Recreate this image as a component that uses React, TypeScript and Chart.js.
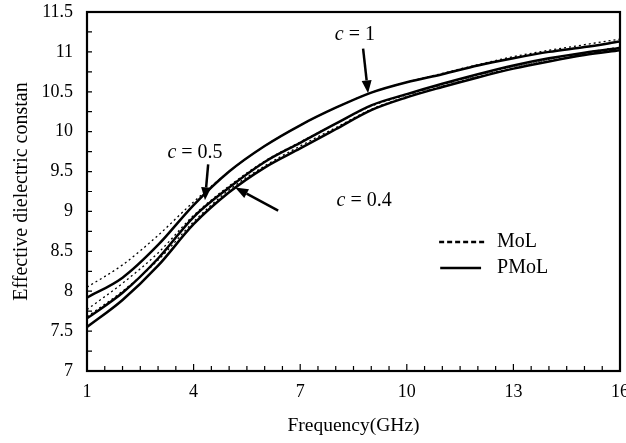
import React, { useEffect, useRef } from "react";
import { Chart, registerables } from "chart.js";

Chart.register(...registerables);

const frequencies = [1, 2, 3, 4, 5, 6, 7, 8, 9, 10, 11, 12, 13, 14, 15, 16];
const pmolC1 = [7.92, 8.17, 8.58, 9.08, 9.5, 9.82, 10.08, 10.3, 10.49, 10.62, 10.72, 10.83, 10.92, 11.0, 11.06, 11.13];
const pmolC05 = [7.66, 7.98, 8.41, 8.93, 9.3, 9.62, 9.86, 10.1, 10.33, 10.47, 10.6, 10.72, 10.83, 10.92, 10.99, 11.05];
const pmolC04 = [7.55, 7.89, 8.32, 8.84, 9.24, 9.55, 9.79, 10.03, 10.27, 10.43, 10.56, 10.68, 10.79, 10.88, 10.96, 11.02];
const molC1 = [8.05, 8.33, 8.7, 9.12, 9.5, 9.82, 10.08, 10.3, 10.49, 10.62, 10.73, 10.84, 10.94, 11.02, 11.09, 11.16];
const molC05 = [7.77, 8.1, 8.48, 8.95, 9.32, 9.63, 9.87, 10.1, 10.32, 10.46, 10.59, 10.71, 10.82, 10.91, 10.99, 11.06];
const molC04 = [7.68, 8.0, 8.39, 8.87, 9.27, 9.57, 9.82, 10.05, 10.28, 10.44, 10.57, 10.69, 10.8, 10.89, 10.97, 11.04];

const xTitle = "Frequency(GHz)";
const yTitle = "Effective dielectric constan";
const legendLabels = ["MoL", "PMoL"];

// annotations in data coordinates: label position, arrow tail, arrow tip
const annotations = [
  { value: "1", label: [8.54, 11.21], tail: [8.77, 11.04], tip: [8.91, 10.48] },
  { value: "0.5", label: [4.04, 9.73], tail: [4.41, 9.59], tip: [4.32, 9.14] },
  { value: "0.4", label: [8.8, 9.14], tail: [6.38, 9.01], tip: [5.17, 9.3] },
];

const FONT = '"Liberation Serif", "Times New Roman", serif';

const toXY = (ys: number[]) => frequencies.map((f, i) => ({ x: f, y: ys[i] }));

const decorPlugin = {
  id: "decor",
  afterDatasetsDraw(chart: any) {
    const { ctx, chartArea, scales } = chart;
    const xs = scales.x;
    const ys = scales.y;
    const px = (v: number) => xs.getPixelForValue(v);
    const py = (v: number) => ys.getPixelForValue(v);
    ctx.save();
    ctx.strokeStyle = "#000";
    ctx.fillStyle = "#000";

    // inside tick marks
    ctx.lineWidth = 1.2;
    ctx.beginPath();
    for (let f = 1.5; f < 16; f += 0.5) {
      const x = px(f);
      const len = Math.abs((f - 1) % 3) < 1e-6 ? 7 : 5;
      ctx.moveTo(x, chartArea.bottom);
      ctx.lineTo(x, chartArea.bottom - len);
    }
    for (let v = 7.25; v < 11.5; v += 0.25) {
      const y = py(v);
      ctx.moveTo(chartArea.left, y);
      ctx.lineTo(chartArea.left + 5, y);
    }
    ctx.stroke();

    // frame
    ctx.lineWidth = 2.2;
    ctx.strokeRect(chartArea.left, chartArea.top, chartArea.right - chartArea.left, chartArea.bottom - chartArea.top);

    // annotations
    ctx.textBaseline = "middle";
    for (const a of annotations) {
      const italic = `italic 20px ${FONT}`;
      const normal = `20px ${FONT}`;
      ctx.font = italic;
      const wc = ctx.measureText("c").width;
      ctx.font = normal;
      const rest = " = " + a.value;
      const wr = ctx.measureText(rest).width;
      const cx = px(a.label[0]);
      const cy = py(a.label[1]);
      const x0 = cx - (wc + wr) / 2;
      ctx.textAlign = "left";
      ctx.font = italic;
      ctx.fillText("c", x0, cy);
      ctx.font = normal;
      ctx.fillText(rest, x0 + wc, cy);

      const x1 = px(a.tail[0]);
      const y1 = py(a.tail[1]);
      const x2 = px(a.tip[0]);
      const y2 = py(a.tip[1]);
      const ang = Math.atan2(y2 - y1, x2 - x1);
      const head = 13;
      const hw = 5;
      ctx.lineWidth = 2.5;
      ctx.beginPath();
      ctx.moveTo(x1, y1);
      ctx.lineTo(x2 - head * Math.cos(ang), y2 - head * Math.sin(ang));
      ctx.stroke();
      ctx.beginPath();
      ctx.moveTo(x2, y2);
      ctx.lineTo(x2 - head * Math.cos(ang) + hw * Math.sin(ang), y2 - head * Math.sin(ang) - hw * Math.cos(ang));
      ctx.lineTo(x2 - head * Math.cos(ang) - hw * Math.sin(ang), y2 - head * Math.sin(ang) + hw * Math.cos(ang));
      ctx.closePath();
      ctx.fill();
    }

    // legend
    ctx.lineWidth = 2.5;
    ctx.setLineDash([5, 3]);
    ctx.beginPath();
    ctx.moveTo(px(10.91), py(8.617));
    ctx.lineTo(px(12.26), py(8.617));
    ctx.stroke();
    ctx.setLineDash([]);
    ctx.beginPath();
    ctx.moveTo(px(10.94), py(8.29));
    ctx.lineTo(px(12.09), py(8.29));
    ctx.stroke();
    ctx.font = `20px ${FONT}`;
    ctx.textAlign = "left";
    ctx.fillText(legendLabels[0], px(12.54), py(8.617));
    ctx.fillText(legendLabels[1], px(12.54), py(8.29));
    ctx.restore();
  },
};

export default function App() {
  const ref = useRef<HTMLCanvasElement | null>(null);
  useEffect(() => {
    document.body.style.margin = "0";
    if (!ref.current) return;
    const solid = (data: number[]) => ({
      data: toXY(data),
      borderColor: "#000",
      borderWidth: 2.5,
      pointRadius: 0,
      fill: false,
      cubicInterpolationMode: "monotone" as const,
    });
    const dashed = (data: number[]) => ({
      data: toXY(data),
      borderColor: "#000",
      borderWidth: 1.3,
      borderDash: [2, 3],
      pointRadius: 0,
      fill: false,
      cubicInterpolationMode: "monotone" as const,
    });
    const chart = new Chart(ref.current, {
      type: "line",
      data: {
        datasets: [
          dashed(molC1),
          dashed(molC05),
          dashed(molC04),
          solid(pmolC1),
          solid(pmolC05),
          solid(pmolC04),
        ],
      },
      options: {
        animation: false,
        responsive: false,
        layout: { padding: { top: 12, right: 6, left: 0, bottom: 0 } },
        plugins: { legend: { display: false }, tooltip: { enabled: false } },
        scales: {
          x: {
            type: "linear",
            min: 1,
            max: 16,
            ticks: { stepSize: 3, color: "#000", padding: 2, font: { family: FONT, size: 18 }, maxRotation: 0 },
            grid: { display: false },
            border: { display: false },
            title: { display: true, text: xTitle, color: "#000", font: { family: FONT, size: 19.5 }, padding: { top: 0, bottom: 5 } },
            afterFit: (s: any) => {
              s.height = 72;
              s.paddingLeft = 0;
              s.paddingRight = 0;
            },
          },
          y: {
            type: "linear",
            min: 7,
            max: 11.5,
            ticks: {
              stepSize: 0.5,
              color: "#000",
              padding: 6,
              font: { family: FONT, size: 18 },
              callback: (v: any) => String(Math.round(Number(v) * 100) / 100),
            },
            grid: { display: false },
            border: { display: false },
            title: { display: true, text: yTitle, color: "#000", font: { family: FONT, size: 20 }, padding: { top: 10, bottom: 0 } },
            afterFit: (s: any) => {
              s.width = 87;
              s.paddingTop = 0;
              s.paddingBottom = 0;
            },
          },
        },
      },
      plugins: [decorPlugin],
    });
    return () => chart.destroy();
  }, []);
  return (
    <div style={{ width: 626, height: 443 }}>
      <canvas ref={ref} width={626} height={443} />
    </div>
  );
}
